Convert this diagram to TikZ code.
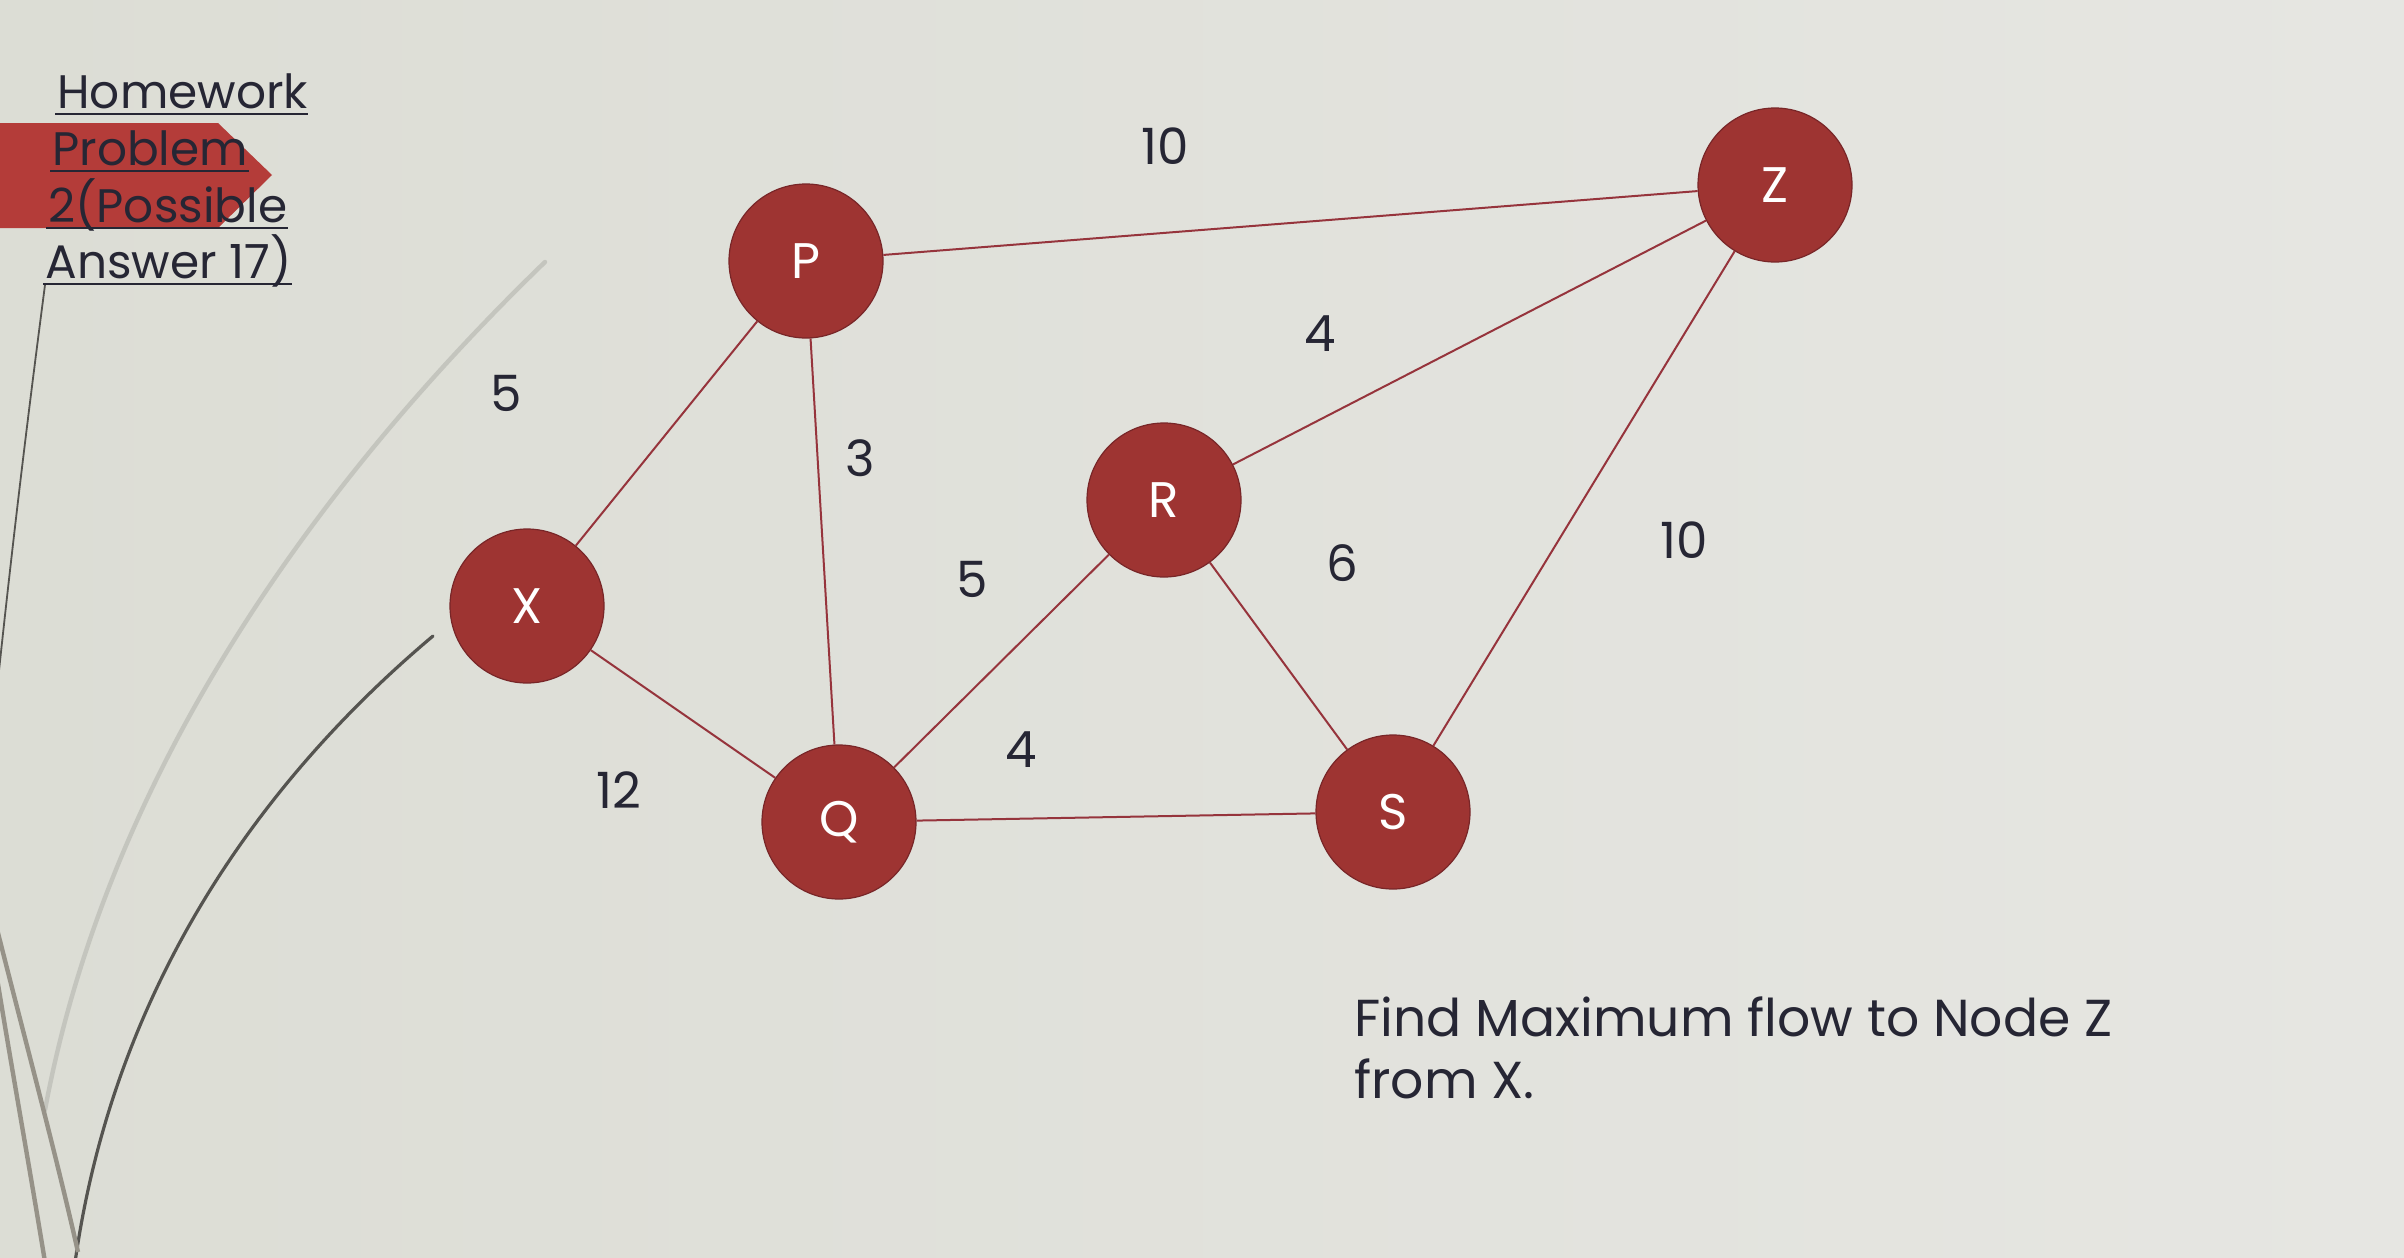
\documentclass[tikz,border=0pt]{standalone}
\usepackage{fontspec}
\setmainfont{Poppins}
\definecolor{bgleft}{RGB}{220,221,213}
\definecolor{bgright}{RGB}{230,230,226}
\definecolor{nodered}{RGB}{158,52,50}
\definecolor{nodeedge}{RGB}{120,38,40}
\definecolor{edgecol}{RGB}{150,52,60}
\definecolor{bannerred}{RGB}{180,60,57}
\definecolor{txt}{RGB}{38,38,52}
\definecolor{faintline}{RGB}{196,197,190}
\definecolor{darkcurve}{RGB}{85,84,80}
\definecolor{wispline}{RGB}{150,146,136}
\begin{document}
\begin{tikzpicture}[x=0.5pt,y=-0.5pt,
  vertex/.style={circle,fill=nodered,draw=nodeedge,line width=0.6pt,minimum size=77pt,inner sep=0pt,text=white,font=\fontsize{25}{25}\selectfont},
  wlabel/.style={inner sep=0pt,text=txt,font=\fontsize{25}{25}\selectfont},
  link/.style={draw=edgecol,line width=1pt},
  tline/.style={inner sep=0pt,anchor=base west,text=txt,font=\fontsize{23.5}{23.5}\selectfont},
  uline/.style={draw=txt,line width=1pt},
  body/.style={inner sep=0pt,anchor=base west,text=txt,font=\fontsize{26}{26}\selectfont}]
% background
\shade[left color=bgleft,right color=bgright] (0,0) rectangle (2404,1258);
\useasboundingbox (0,0) rectangle (2404,1258);
% decorative wisp curves
\draw[faintline,line width=2.2pt,line cap=round] (545,262) .. controls (330,470) and (110,760) .. (45,1110);
\draw[darkcurve,line width=1.6pt,line cap=round] (433,636) .. controls (250,790) and (110,1000) .. (74,1270);
\draw[darkcurve,line width=0.9pt] (45,285) .. controls (30,400) and (15,520) .. (-2,680);
\draw[wispline,line width=2.2pt] (-4,925) .. controls (25,1040) and (55,1150) .. (78,1252);
\draw[wispline,line width=2.2pt] (-4,972) .. controls (12,1070) and (30,1170) .. (45,1262);
% title banner
\fill[bannerred] (0,123) -- (218,123) -- (272,175) -- (218,228) -- (0,228) -- cycle;
% title
\node[tline] (t1) at (57,108) {Homework};
\node[tline] (t2) at (52,165) {Problem};
\node[tline] (t3) at (48,222) {2(Possible};
\node[tline] (t4) at (45,278) {Answer 17)};
\foreach \t in {t1,t2,t3,t4}{
  \draw[uline] ([xshift=-1pt,yshift=-3pt]\t.base west) -- ([yshift=-3pt]\t.base east);
}
% nodes
\node[vertex] (P) at (806,261) {P};
\node[vertex] (Z) at (1775,185) {Z};
\node[vertex] (R) at (1164,500) {R};
\node[vertex] (X) at (527,606) {X};
\node[vertex] (Q) at (839,822) {Q};
\node[vertex] (S) at (1393,812) {S};
% edges
\draw[link] (P) -- (Z);
\draw[link] (P) -- (X);
\draw[link] (P) -- (Q);
\draw[link] (X) -- (Q);
\draw[link] (Q) -- (R);
\draw[link] (Q) -- (S);
\draw[link] (R) -- (Z);
\draw[link] (R) -- (S);
\draw[link] (S) -- (Z);
% capacities
\node[wlabel] (cPZ) at (1165,146) {10};
\node[wlabel] (cRZ) at (1320,334) {4};
\node[wlabel] (cXP) at (506,393) {5};
\node[wlabel] (cPQ) at (860,458) {3};
\node[wlabel] (cQR) at (972,579) {5};
\node[wlabel] (cRS) at (1342,563) {6};
\node[wlabel] (cSZ) at (1684,540) {10};
\node[wlabel] (cXQ) at (619,790) {12};
\node[wlabel] (cQS) at (1021,750) {4};
% question
\node[body] (b1) at (1354,1036) {Find Maximum flow to Node Z};
\node[body] (b2) at (1354,1098) {from X.};
\end{tikzpicture}
\end{document}
